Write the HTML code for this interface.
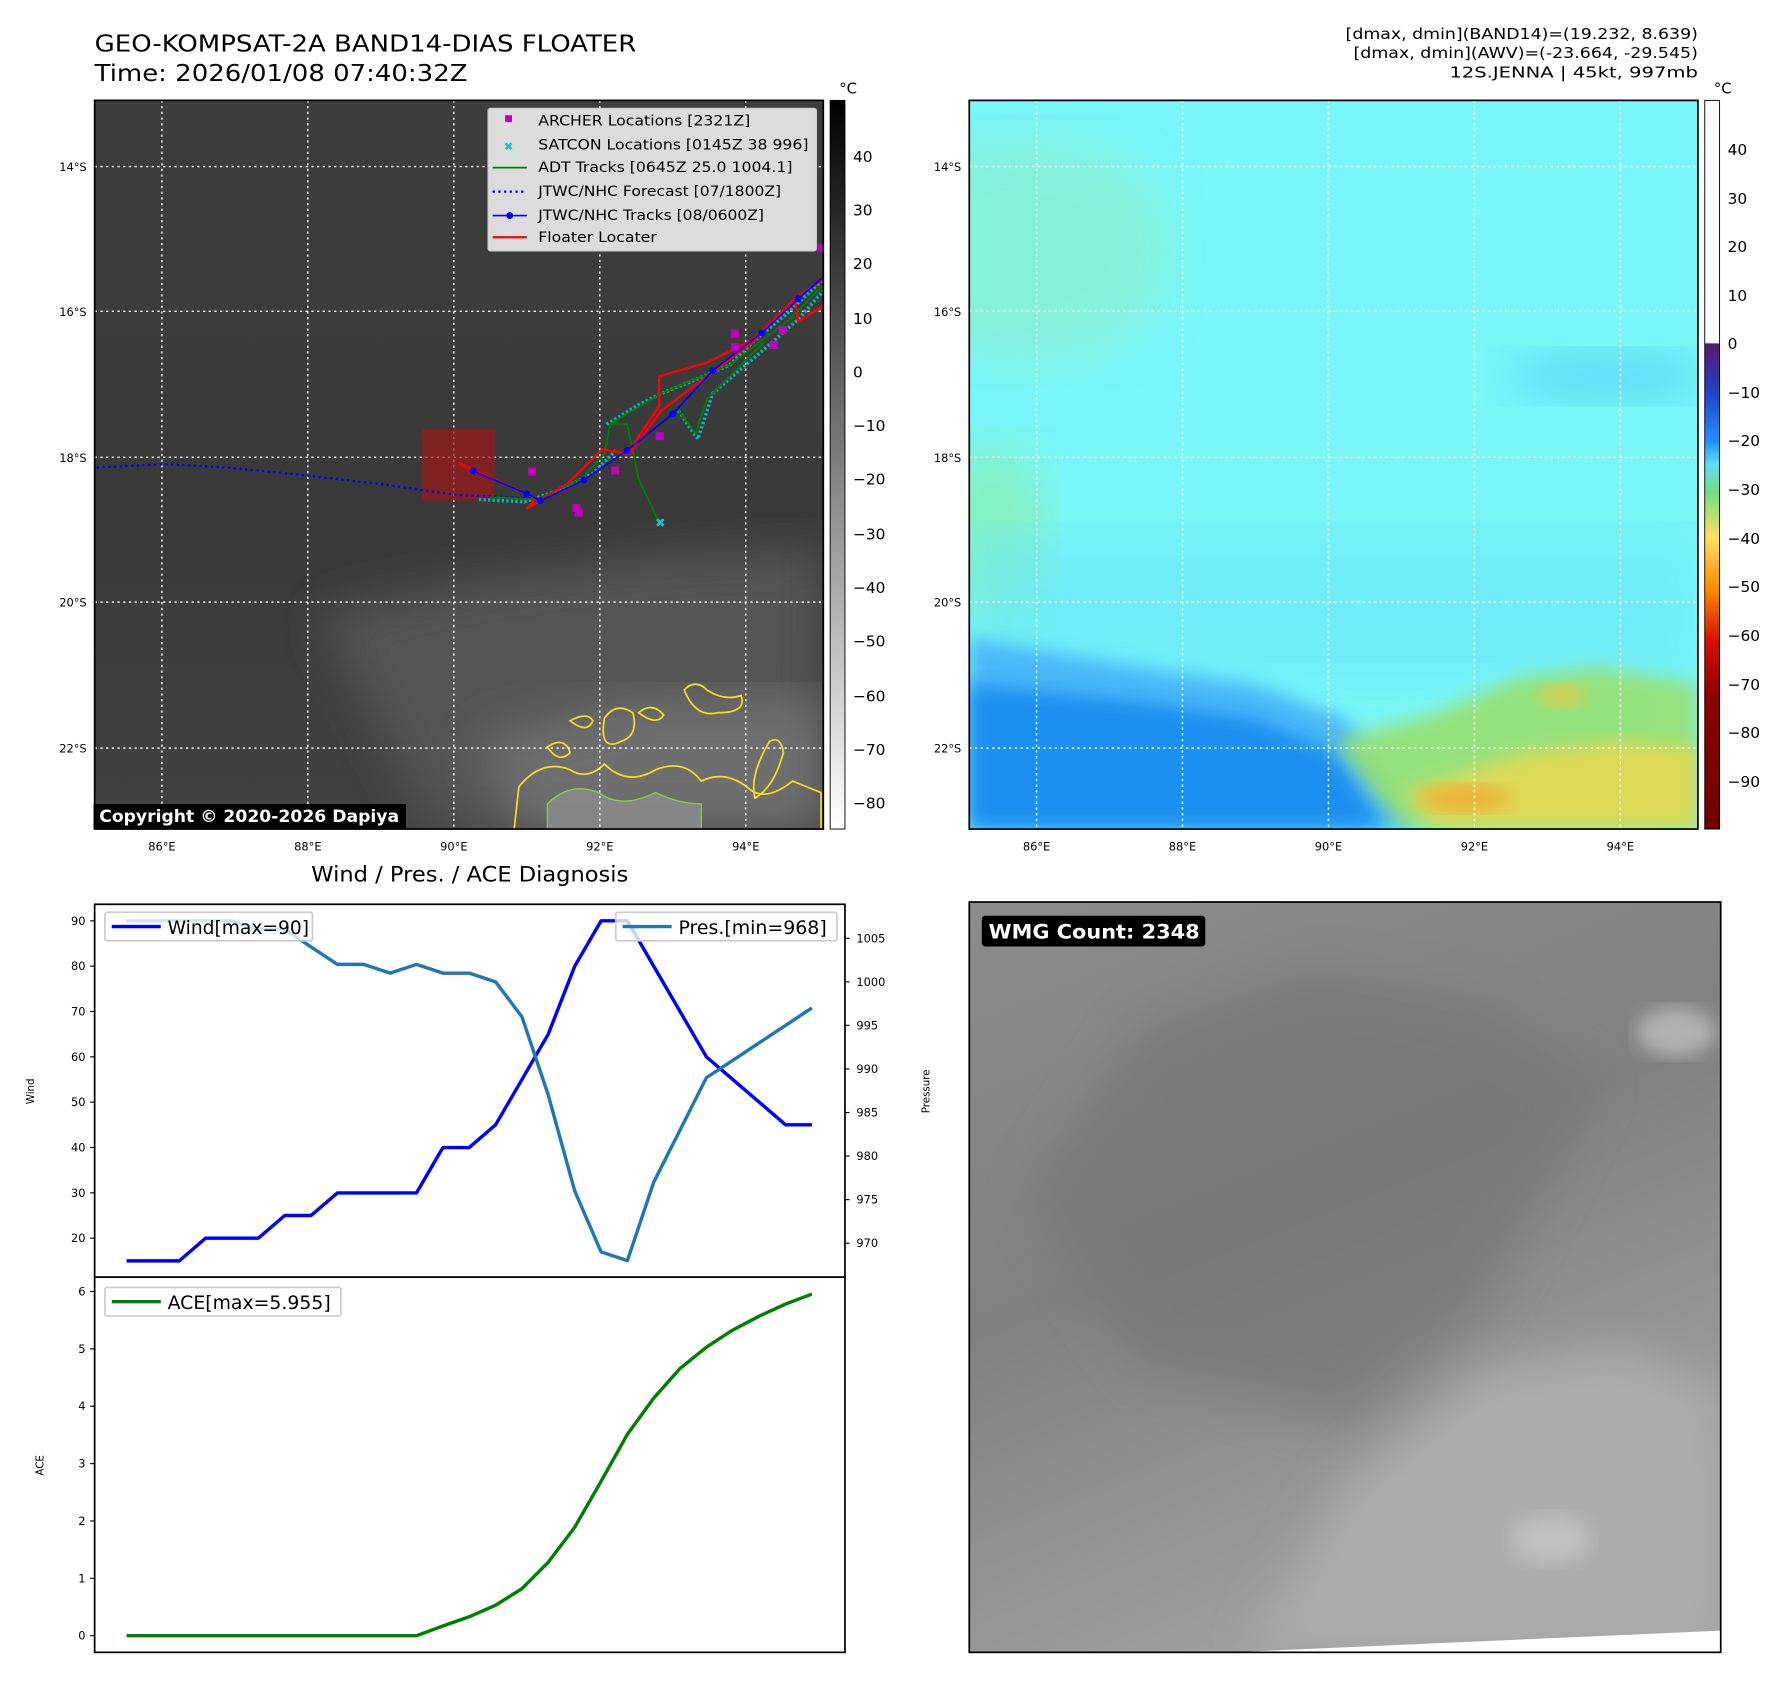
<!DOCTYPE html>
<html><head><meta charset="utf-8"><style>
html,body{margin:0;padding:0;background:#fff;}
svg{display:block;font-family:"DejaVu Sans","Liberation Sans",sans-serif;}
</style></head><body>
<svg id="fig" width="1788" height="1690" viewBox="0 0 1568 1482" xmlns="http://www.w3.org/2000/svg">
<defs>
<linearGradient id="cb1" x1="0" y1="0" x2="0" y2="1"><stop offset="0" stop-color="#000"/><stop offset="1" stop-color="#fff"/></linearGradient>
<linearGradient id="cb2" x1="0" y1="0" x2="0" y2="1">
<stop offset="0" stop-color="#fff"/><stop offset="0.333" stop-color="#fff"/><stop offset="0.334" stop-color="#5a1a6e"/>
<stop offset="0.40" stop-color="#2040c8"/><stop offset="0.467" stop-color="#1e90ff"/><stop offset="0.50" stop-color="#60dff0"/>
<stop offset="0.54" stop-color="#70e080"/><stop offset="0.60" stop-color="#ffe060"/><stop offset="0.67" stop-color="#ff8c00"/>
<stop offset="0.74" stop-color="#d81000"/><stop offset="0.82" stop-color="#8a0000"/><stop offset="1" stop-color="#700000"/></linearGradient>
<linearGradient id="m1g" x1="0" y1="0" x2="0" y2="1"><stop offset="0" stop-color="#3d3d3d"/><stop offset="0.6" stop-color="#3a3a3a"/><stop offset="1" stop-color="#424242"/></linearGradient>
<linearGradient id="wmgg" x1="0" y1="0" x2="0.4" y2="1"><stop offset="0" stop-color="#8c8c8c"/><stop offset="0.5" stop-color="#808080"/><stop offset="1" stop-color="#a0a0a0"/></linearGradient>
<filter id="blur8"><feGaussianBlur stdDeviation="8"/></filter>
<filter id="blur20"><feGaussianBlur stdDeviation="20"/></filter>
<clipPath id="c1"><rect x="83" y="88" width="639" height="639"/></clipPath>
<clipPath id="c2"><rect x="850" y="88" width="639" height="639"/></clipPath>
<clipPath id="c3"><rect x="850" y="791" width="659" height="658"/></clipPath>
</defs>

<text x="83" y="45" font-size="20" textLength="475" lengthAdjust="spacingAndGlyphs">GEO-KOMPSAT-2A BAND14-DIAS FLOATER</text>
<text x="83" y="71" font-size="20" textLength="327" lengthAdjust="spacingAndGlyphs">Time: 2026/01/08 07:40:32Z</text>
<g font-size="13" text-anchor="end">
<text x="1489" y="34" textLength="309" lengthAdjust="spacingAndGlyphs">[dmax, dmin](BAND14)=(19.232, 8.639)</text>
<text x="1489" y="51" textLength="302" lengthAdjust="spacingAndGlyphs">[dmax, dmin](AWV)=(-23.664, -29.545)</text>
<text x="1489" y="68" textLength="218" lengthAdjust="spacingAndGlyphs">12S.JENNA | 45kt, 997mb</text>
</g>

<!-- Map 1 -->
<g clip-path="url(#c1)">
<rect x="83" y="88" width="639" height="639" fill="url(#m1g)"/>
<path d="M280,540 L420,510 L560,490 L722,480 L722,727 L380,727 Z" fill="#555" filter="url(#blur20)"/>
<path d="M420,650 L560,610 L722,610 L722,727 L450,727 Z" fill="#6e6e6e" filter="url(#blur20)"/>
<g fill="none" stroke="#f4e020" stroke-width="1.5">
<path d="M455,690 q20,-25 45,-15 q15,10 30,-5 q20,20 45,5 q25,-10 40,10 q20,-10 40,5 q15,15 40,-5 l25,10 l0,40 l-270,0 z"/>
<path d="M600,605 q10,-10 20,0 q15,10 30,5 q5,15 -20,15 q-20,5 -30,-20 z"/>
<path d="M530,630 q10,-15 25,-5 q5,20 -10,25 q-20,10 -15,-20 z"/>
<path d="M480,655 q15,-10 20,5 q-10,10 -20,-5 z"/>
<path d="M500,632 q15,-8 20,0 q-5,12 -20,0 z"/>
<path d="M560,625 q12,-10 22,2 q-6,10 -22,-2 z"/>
<path d="M675,650 q10,-5 12,10 q-8,30 -25,40 q-5,-20 13,-50 z"/>
</g>
<g fill="#8a8a8a" stroke="#8fd050" stroke-width="1.2" opacity="0.9">
<path d="M480,705 q20,-20 45,-10 q20,15 50,0 q20,10 40,10 l0,22 l-135,0 z"/>
</g>
<g stroke="#fff" stroke-width="1.2" stroke-dasharray="2,3">
<line x1="142" y1="88" x2="142" y2="727"/><line x1="270" y1="88" x2="270" y2="727"/><line x1="398" y1="88" x2="398" y2="727"/><line x1="526" y1="88" x2="526" y2="727"/><line x1="654" y1="88" x2="654" y2="727"/>
<line x1="83" y1="146" x2="722" y2="146"/><line x1="83" y1="273" x2="722" y2="273"/><line x1="83" y1="401" x2="722" y2="401"/><line x1="83" y1="528" x2="722" y2="528"/><line x1="83" y1="656" x2="722" y2="656"/>
</g>
<rect x="370" y="376" width="64" height="63" fill="#a01818" opacity="0.7"/>
<polyline points="85,410 145,407 200,410 260,416 330,424 400,434 470,437" fill="none" stroke="#0000ff" stroke-width="2" stroke-dasharray="2,3"/>
<g fill="none" stroke="#00b8b8" stroke-width="3" stroke-dasharray="2,2">
<polyline points="420,438 460,440 490,430 520,415 540,395"/>
<polyline points="532,372 560,355 580,345 605,335 640,320 660,300 690,275 722,245"/>
<polyline points="595,360 605,375 612,385 625,345 660,315 700,280 722,255"/>
</g>
<g fill="none" stroke="#008000" stroke-width="1.5">
<polyline points="430,436 470,438 510,420 530,398 535,372 580,345 640,320 690,282 722,250"/>
<polyline points="535,372 550,372 560,420 578,458"/>
<polyline points="595,360 610,380 620,350 660,310 670,300"/>
</g>
<polyline points="402,406 470,437 462,446 498,424 528,394 550,398 578,356 578,330 620,318 660,298 697,262 700,282 722,268" fill="none" stroke="#ff0000" stroke-width="2"/>
<polyline points="528,394 552,398 580,360 620,330 660,300 697,262 722,245" fill="none" stroke="#ff0000" stroke-width="2"/>
<g>
<polyline points="415,413 462,433 474,439 512,421 550,395 590,363 625,325 668,292 700,262 722,243" fill="none" stroke="#0000ff" stroke-width="1.5"/>
<g fill="#0000ff"><circle cx="415" cy="413" r="3"/><circle cx="462" cy="433" r="3"/><circle cx="474" cy="439" r="3"/><circle cx="512" cy="421" r="3"/><circle cx="550" cy="395" r="3"/><circle cx="590" cy="363" r="3"/><circle cx="625" cy="325" r="3"/><circle cx="668" cy="292" r="3"/><circle cx="700" cy="262" r="3"/></g>
</g>
<g fill="#c000c0">
<rect x="463" y="410" width="7" height="7"/><rect x="502" y="442" width="7" height="7"/><rect x="504" y="446" width="7" height="7"/><rect x="536" y="409" width="7" height="7"/><rect x="575" y="379" width="7" height="7"/><rect x="641" y="289" width="7" height="7"/><rect x="641" y="301" width="7" height="7"/><rect x="675" y="299" width="7" height="7"/><rect x="683" y="286" width="7" height="7"/><rect x="717" y="214" width="7" height="7"/>
</g>
<text x="579" y="462" fill="#20c0c0" font-size="11" text-anchor="middle">✖</text>
</g>
<rect x="83" y="88" width="639" height="639" fill="none" stroke="#000" stroke-width="1.5"/>
<g>
<rect x="428" y="95" width="288" height="125" fill="#dcdcdc" stroke="#ccc" rx="2"/>
<g font-size="12.5">
<rect x="443" y="101" width="6" height="6" fill="#c000c0"/><text x="472" y="110" textLength="186" lengthAdjust="spacingAndGlyphs">ARCHER Locations [2321Z]</text>
<text x="446" y="132" fill="#20c0c0" font-size="10" text-anchor="middle">✖</text><text x="472" y="131" textLength="237" lengthAdjust="spacingAndGlyphs">SATCON Locations [0145Z 38 996]</text>
<line x1="432" y1="147" x2="462" y2="147" stroke="#008000" stroke-width="1.5"/><text x="472" y="151" textLength="223" lengthAdjust="spacingAndGlyphs">ADT Tracks [0645Z 25.0 1004.1]</text>
<line x1="432" y1="168" x2="462" y2="168" stroke="#0000ff" stroke-width="2" stroke-dasharray="2,3"/><text x="472" y="172" textLength="213" lengthAdjust="spacingAndGlyphs">JTWC/NHC Forecast [07/1800Z]</text>
<line x1="432" y1="189" x2="462" y2="189" stroke="#0000ff" stroke-width="1.5"/><circle cx="447" cy="189" r="3" fill="#0000ff"/><text x="472" y="193" textLength="198" lengthAdjust="spacingAndGlyphs">JTWC/NHC Tracks [08/0600Z]</text>
<line x1="432" y1="208" x2="462" y2="208" stroke="#ff0000" stroke-width="2"/><text x="472" y="212" textLength="104" lengthAdjust="spacingAndGlyphs">Floater Locater</text>
</g></g>
<rect x="82" y="705" width="274" height="22" fill="#000"/>
<text x="87" y="721" font-size="14.5" font-weight="bold" fill="#fff" textLength="263" lengthAdjust="spacingAndGlyphs">Copyright © 2020-2026 Dapiya</text>
<g font-size="10">
<g text-anchor="end"><text x="76" y="150">14°S</text><text x="76" y="277">16°S</text><text x="76" y="405">18°S</text><text x="76" y="532">20°S</text><text x="76" y="660">22°S</text></g>
<g text-anchor="middle"><text x="142" y="746">86°E</text><text x="270" y="746">88°E</text><text x="398" y="746">90°E</text><text x="526" y="746">92°E</text><text x="654" y="746">94°E</text></g>
</g>
<g>
<rect x="728" y="88" width="13" height="639" fill="url(#cb1)" stroke="#000" stroke-width="0.8"/>
<text x="736" y="82" font-size="13">°C</text>
<g font-size="13.5"><text x="748" y="142">40</text><text x="748" y="189">30</text><text x="748" y="236">20</text><text x="748" y="284">10</text><text x="748" y="331">0</text><text x="748" y="378">−10</text><text x="748" y="425">−20</text><text x="748" y="473">−30</text><text x="748" y="520">−40</text><text x="748" y="567">−50</text><text x="748" y="615">−60</text><text x="748" y="662">−70</text><text x="748" y="709">−80</text></g>
</g>

<!-- Map 2 -->
<g clip-path="url(#c2)">
<rect x="850" y="88" width="639" height="639" fill="#78f6f8"/>
<ellipse cx="900" cy="220" rx="130" ry="100" fill="#90eec0" filter="url(#blur20)" opacity="0.55"/>
<ellipse cx="870" cy="470" rx="50" ry="80" fill="#90ec90" filter="url(#blur20)" opacity="0.5"/>
<ellipse cx="1410" cy="330" rx="90" ry="22" fill="#50c8f4" filter="url(#blur20)" opacity="0.6"/>
<path d="M850,470 L1489,470 L1489,600 L850,600 Z" fill="#6ae8f8" filter="url(#blur20)" opacity="0.6"/>
<path d="M850,560 L1000,585 L1100,600 L1180,630 L1230,700 L1240,727 L850,727 Z" fill="#48b8f8" filter="url(#blur8)"/>
<path d="M850,600 L1000,615 L1100,630 L1170,660 L1215,727 L850,727 Z" fill="#1e90f0" filter="url(#blur8)"/>
<path d="M1170,650 L1260,625 L1330,595 L1400,585 L1489,600 L1489,727 L1230,727 Z" fill="#98e070" filter="url(#blur8)" opacity="0.9"/>
<path d="M1230,695 L1290,675 L1340,660 L1420,650 L1489,655 L1489,727 L1260,727 Z" fill="#e8d850" filter="url(#blur8)" opacity="0.85"/>
<ellipse cx="1285" cy="700" rx="40" ry="12" fill="#f0a830" filter="url(#blur8)" opacity="0.8"/>
<ellipse cx="1370" cy="610" rx="20" ry="10" fill="#f0c840" filter="url(#blur8)" opacity="0.8"/>
<g stroke="#fff" stroke-width="1.2" stroke-dasharray="2,3">
<line x1="909" y1="88" x2="909" y2="727"/><line x1="1037" y1="88" x2="1037" y2="727"/><line x1="1165" y1="88" x2="1165" y2="727"/><line x1="1293" y1="88" x2="1293" y2="727"/><line x1="1421" y1="88" x2="1421" y2="727"/>
<line x1="850" y1="146" x2="1489" y2="146"/><line x1="850" y1="273" x2="1489" y2="273"/><line x1="850" y1="401" x2="1489" y2="401"/><line x1="850" y1="528" x2="1489" y2="528"/><line x1="850" y1="656" x2="1489" y2="656"/>
</g>
</g>
<rect x="850" y="88" width="639" height="639" fill="none" stroke="#000" stroke-width="1.5"/>
<g font-size="10">
<g text-anchor="end"><text x="843" y="150">14°S</text><text x="843" y="277">16°S</text><text x="843" y="405">18°S</text><text x="843" y="532">20°S</text><text x="843" y="660">22°S</text></g>
<g text-anchor="middle"><text x="909" y="746">86°E</text><text x="1037" y="746">88°E</text><text x="1165" y="746">90°E</text><text x="1293" y="746">92°E</text><text x="1421" y="746">94°E</text></g>
</g>
<g>
<rect x="1495" y="88" width="13" height="639" fill="url(#cb2)" stroke="#000" stroke-width="0.8"/>
<text x="1503" y="82" font-size="13">°C</text>
<g font-size="13.5"><text x="1515" y="136">40</text><text x="1515" y="179">30</text><text x="1515" y="221">20</text><text x="1515" y="264">10</text><text x="1515" y="306">0</text><text x="1515" y="349">−10</text><text x="1515" y="391">−20</text><text x="1515" y="434">−30</text><text x="1515" y="477">−40</text><text x="1515" y="519">−50</text><text x="1515" y="562">−60</text><text x="1515" y="605">−70</text><text x="1515" y="647">−80</text><text x="1515" y="690">−90</text></g>
</g>

<!-- WMG panel -->
<g clip-path="url(#c3)">
<rect x="850" y="791" width="659" height="658" fill="url(#wmgg)"/>
<path d="M1000,900 L1150,850 L1300,880 L1400,950 L1300,1150 L1180,1250 L1000,1200 L900,1050 Z" fill="#777" filter="url(#blur20)" opacity="0.7"/>
<path d="M1180,1300 L1300,1200 L1420,1180 L1509,1220 L1509,1449 L1100,1449 Z" fill="#acacac" filter="url(#blur20)"/>
<ellipse cx="1360" cy="1350" rx="35" ry="22" fill="#c0c0c0" filter="url(#blur8)"/>
<ellipse cx="1470" cy="905" rx="35" ry="22" fill="#b0b0b0" filter="url(#blur8)"/>
<path d="M1080,1449 L1509,1430 L1509,1449 Z" fill="#fff"/>
</g>
<rect x="850" y="791" width="659" height="658" fill="none" stroke="#000" stroke-width="1.5"/>
<rect x="861" y="803" width="196" height="27" rx="3" fill="#000"/>
<text x="867" y="823" font-size="17.5" font-weight="bold" fill="#fff" textLength="185" lengthAdjust="spacingAndGlyphs">WMG Count: 2348</text>

<text x="412" y="773" font-size="19" text-anchor="middle" textLength="278" lengthAdjust="spacingAndGlyphs">Wind / Pres. / ACE Diagnosis</text>
<g id="chart"></g>
</svg>
<script>
const windValues = [15,15,15,20,20,20,25,25,30,30,30,30,40,40,45,55,65,80,90,90,80,70,60,55,50,45,45];
const presValues = [1007,1007,1007,1007,1007,1006,1006,1004,1002,1002,1001,1002,1001,1001,1000,996,987,976,969,968,977,983,989,991,993,995,997];
const aceValues = [0,0,0,0,0,0,0,0,0,0,0,0,0.17,0.33,0.53,0.82,1.28,1.89,2.69,3.51,4.14,4.66,5.03,5.33,5.57,5.78,5.955];
const windTicks = [20,30,40,50,60,70,80,90];
const presTicks = [970,975,980,985,990,995,1000,1005];
const aceTicks = [0,1,2,3,4,5,6];

const NS='http://www.w3.org/2000/svg';
const chart=document.getElementById('chart');
function mk(tag,attrs,parent){const e=document.createElementNS(NS,tag);for(const k in attrs)e.setAttribute(k,attrs[k]);(parent||chart).appendChild(e);return e;}
const X0=83,X1=741,TOP1=793,BOT1=1120,TOP2=1120,BOT2=1449;
const n=windValues.length;
function xs(i){return 111+i*(712-111)/(n-1);}
function yWind(v){return TOP1+(93.65-v)/(93.65-11.4)*(BOT1-TOP1);}
function yPres(v){return TOP1+(1008.9-v)/(1008.9-966.1)*(BOT1-TOP1);}
function yAce(v){return TOP2+(6.25-v)/(6.25+0.29)*(BOT2-TOP2);}
function pts(arr,f){return arr.map((v,i)=>xs(i).toFixed(1)+','+f(v).toFixed(1)).join(' ');}

let r=mk('rect',{x:X0,y:TOP1,width:X1-X0,height:BOT1-TOP1,fill:'#fff',stroke:'#000','stroke-width':1.5});


r=mk('rect',{x:X0,y:TOP2,width:X1-X0,height:BOT2-TOP2,fill:'#fff',stroke:'#000','stroke-width':1.5});



windTicks.forEach(t=>{const y=yWind(t);mk('line',{x1:X0-4,y1:y,x2:X0,y2:y,stroke:'#000'});const tx=mk('text',{x:X0-8,y:y+3.5,'font-size':10,'text-anchor':'end'});tx.textContent=t;

});
presTicks.forEach(t=>{const y=yPres(t);mk('line',{x1:X1,y1:y,x2:X1+4,y2:y,stroke:'#000'});const tx=mk('text',{x:X1+10,y:y+3.5,'font-size':10});tx.textContent=t;

});
aceTicks.forEach(t=>{const y=yAce(t);mk('line',{x1:X0-4,y1:y,x2:X0,y2:y,stroke:'#000'});const tx=mk('text',{x:X0-8,y:y+3.5,'font-size':10,'text-anchor':'end'});tx.textContent=t;

});

let t=mk('text',{x:30,y:957,'font-size':9,'text-anchor':'middle',transform:'rotate(-90 30 957)'});t.textContent='Wind';


t=mk('text',{x:815,y:957,'font-size':9,'text-anchor':'middle',transform:'rotate(-90 815 957)'});t.textContent='Pressure';


t=mk('text',{x:38,y:1285,'font-size':9,'text-anchor':'middle',transform:'rotate(-90 38 1285)'});t.textContent='ACE';



let l=mk('polyline',{points:pts(windValues,yWind),fill:'none',stroke:'#0000ff','stroke-width':3,'stroke-linejoin':'round'});


l=mk('polyline',{points:pts(presValues,yPres),fill:'none',stroke:'#1f77b4','stroke-width':3,'stroke-linejoin':'round'});


l=mk('polyline',{points:pts(aceValues,yAce),fill:'none',stroke:'#008000','stroke-width':3,'stroke-linejoin':'round'});



function legend(x,y,w,color,label,name,tl){
 const g=mk('g',{});
 
 
 mk('rect',{x:x,y:y,width:w,height:25,rx:2,fill:'#fff','fill-opacity':0.8,stroke:'#ccc','stroke-width':1.5},g);
 mk('line',{x1:x+6,y1:y+12.5,x2:x+49,y2:y+12.5,stroke:color,'stroke-width':3},g);
 const tx=mk('text',{x:x+55,y:y+19,'font-size':16,textLength:tl,lengthAdjust:'spacingAndGlyphs'},g);tx.textContent=label;
}
legend(92,800,182,'#0000ff','Wind[max=90]','wind-legend',124);
legend(540,800,194,'#1f77b4','Pres.[min=968]','pressure-legend',130);
legend(92,1129,207,'#008000','ACE[max=5.955]','ace-legend',143);
</script>
</body></html>
